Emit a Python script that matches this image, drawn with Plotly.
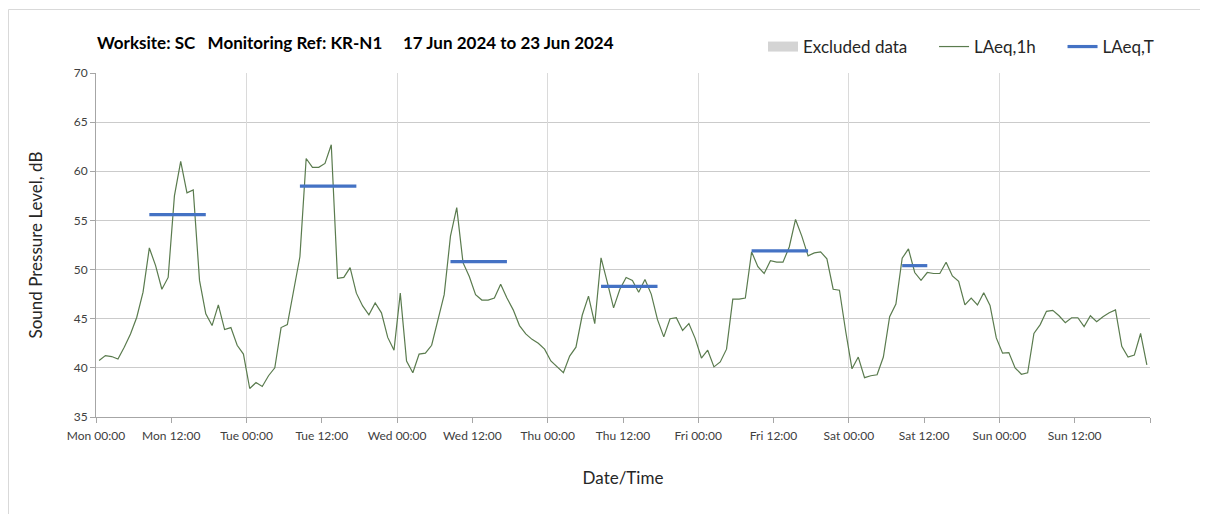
import pandas as pd
import plotly.graph_objects as go

# hourly LAeq,1h values, Mon 17 Jun 2024 00:00 .. Sun 23 Jun 2024 23:00
laeq_1h = [
    # Mon
    40.75, 41.25, 41.15, 40.9, 42.1, 43.45, 45.15, 47.7, 52.2, 50.4, 48.0, 49.2,
    57.5, 61.0, 57.8, 58.1, 48.9, 45.5, 44.3, 46.4, 43.9, 44.1, 42.3, 41.4,
    # Tue
    37.9, 38.5, 38.1, 39.2, 40.0, 44.1, 44.4, 47.9, 51.3, 61.3, 60.4, 60.4,
    60.8, 62.7, 49.1, 49.2, 50.2, 47.6, 46.3, 45.4, 46.6, 45.6, 43.1, 41.8,
    # Wed
    47.6, 40.7, 39.5, 41.4, 41.5, 42.3, 44.9, 47.45, 53.4, 56.3, 50.7, 49.3,
    47.45, 46.9, 46.9, 47.1, 48.5, 47.1, 45.9, 44.3, 43.45, 42.9, 42.5, 41.9,
    # Thu
    40.7, 40.1, 39.5, 41.2, 42.1, 45.35, 47.3, 44.5, 51.2, 48.7, 46.1, 48.0,
    49.2, 48.9, 47.7, 49.0, 47.5, 44.9, 43.15, 45.0, 45.1, 43.8, 44.5, 43.0,
    # Fri
    41.0, 41.8, 40.1, 40.6, 41.9, 47.0, 47.0, 47.1, 51.8, 50.3, 49.6, 50.9,
    50.75, 50.75, 52.3, 55.1, 53.4, 51.4, 51.7, 51.8, 51.1, 48.0, 47.9, 43.7,
    # Sat
    39.9, 41.1, 39.0, 39.2, 39.3, 41.1, 45.2, 46.5, 51.15, 52.1, 49.7, 48.9,
    49.7, 49.6, 49.6, 50.75, 49.35, 48.8, 46.4, 47.1, 46.4, 47.65, 46.35, 43.05,
    # Sun
    41.5, 41.55, 40.0, 39.35, 39.5, 43.5, 44.4, 45.75, 45.85, 45.3, 44.6, 45.1,
    45.1, 44.2, 45.3, 44.7, 45.2, 45.6, 45.9, 42.2, 41.1, 41.3, 43.5, 40.3,
]

# LAeq,T per monitoring period: (day index, first hour, last hour, level)
laeq_t_periods = [
    (0, 8, 17, 55.6),
    (1, 8, 17, 58.5),
    (2, 8, 17, 50.8),
    (3, 8, 17, 48.3),
    (4, 8, 17, 51.9),
    (5, 8, 12, 50.4),
]

start = pd.Timestamp("2024-06-17 00:00")
end = pd.Timestamp("2024-06-24 00:00")
# each hourly value is plotted at the middle of its hour
times = pd.date_range(start + pd.Timedelta(minutes=30), periods=len(laeq_1h), freq="h")
tick_times = pd.date_range(start, periods=14, freq="12h")

laeq_t = [None] * len(laeq_1h)
for day, h0, h1, level in laeq_t_periods:
    for h in range(h0, h1 + 1):
        laeq_t[day * 24 + h] = level

FONT = "Lato"
AXIS_GREY = "#a6a6a6"
NBSP = "\u00a0"

# plot area in figure pixels
L, R, T, B = 88, 66, 65, 105
W, H = 1208, 514
PW, PH = W - L - R, H - T - B


def px_x(fx):
    return (fx - L) / PW


def px_y(fy):
    return (H - B - fy) / PH


fig = go.Figure()
fig.add_trace(go.Scatter(
    x=[None], y=[None], mode="lines", name="Excluded data" + NBSP * 5,
    line=dict(color="#d4d4d4", width=11),
))
fig.add_trace(go.Scatter(
    x=times, y=laeq_1h, mode="lines", name="LAeq,1h" + NBSP * 5,
    line=dict(color="#5a7b4e", width=1.2),
))
fig.add_trace(go.Scatter(
    x=times, y=laeq_t, mode="lines", name="LAeq,T",
    line=dict(color="#4472c4", width=3.2),
    connectgaps=False,
))
# helper trace so the day grid axis gets drawn
fig.add_trace(go.Scatter(
    x=[start], y=[None], xaxis="x2", showlegend=False, hoverinfo="skip",
))

fig.update_layout(
    width=W, height=H,
    margin=dict(l=L, r=R, t=T, b=B),
    paper_bgcolor="white", plot_bgcolor="white",
    font=dict(family=FONT, color="#404040"),
    legend=dict(
        orientation="h", xanchor="right", x=px_x(1151), yanchor="middle", y=px_y(39),
        font=dict(family=FONT, size=17, color="#262626"),
        bgcolor="rgba(0,0,0,0)", itemwidth=30,
    ),
    showlegend=True,
    xaxis=dict(
        type="date", range=[start, end],
        tickvals=tick_times, tickformat="%a %H:%M",
        tickfont=dict(size=12, color="#404040"),
        ticklabelstandoff=3,
        showgrid=False, zeroline=False,
        showline=True, linecolor=AXIS_GREY, linewidth=1,
        ticks="outside", ticklen=5, tickcolor=AXIS_GREY,
        title=dict(text="Date/Time", font=dict(size=17, color="#262626"), standoff=29),
    ),
    xaxis2=dict(
        type="date", overlaying="x", matches="x", side="bottom",
        dtick=86400000, tick0=start,
        showgrid=True, gridcolor="#dadada", gridwidth=1,
        showticklabels=False, ticks="outside", ticklen=5, tickcolor=AXIS_GREY,
        zeroline=False,
    ),
    yaxis=dict(
        range=[35, 70], dtick=5,
        tickfont=dict(size=12, color="#404040"),
        showgrid=True, gridcolor="#cbcbcb", gridwidth=1,
        zeroline=False,
        showline=True, linecolor=AXIS_GREY, linewidth=1,
        ticks="outside", ticklen=5, tickcolor=AXIS_GREY,
        title=dict(text="Sound Pressure Level, dB", font=dict(size=17, color="#262626"), standoff=26),
    ),
)

# chart heading
fig.add_annotation(
    text="<b>Worksite: SC" + NBSP * 3 + "Monitoring Ref: KR-N1" + NBSP * 5
         + "17 Jun 2024 to 23 Jun 2024</b>",
    font=dict(family=FONT, size=17, color="#000000"),
    xref="paper", x=px_x(87), xanchor="left",
    yref="paper", y=px_y(34), yanchor="middle",
    showarrow=False,
)

# light outer frame of the chart
fig.add_shape(
    type="rect", xref="paper", yref="paper",
    x0=px_x(0.5), x1=px_x(W + 20),
    y0=px_y(H + 20), y1=px_y(1.5),
    line=dict(color="#d9d9d9", width=1), layer="below",
)

fig.write_html("out.html")
